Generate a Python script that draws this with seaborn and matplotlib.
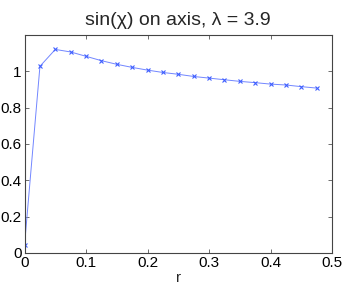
import numpy as np
import pandas as pd
import matplotlib
matplotlib.use("Agg")
import matplotlib.pyplot as plt
import seaborn as sns
from matplotlib.ticker import FormatStrFormatter

# data
r_vals = [0.0, 0.025, 0.05, 0.075, 0.1, 0.125, 0.15, 0.175, 0.2, 0.225,
          0.25, 0.275, 0.3, 0.325, 0.35, 0.375, 0.4, 0.425, 0.45, 0.475]
sin_chi = [0.045, 1.028, 1.121, 1.107, 1.083, 1.059, 1.039, 1.022, 1.007, 0.994,
           0.984, 0.972, 0.963, 0.954, 0.945, 0.938, 0.930, 0.925, 0.916, 0.908]
x_ticks = [0, 0.1, 0.2, 0.3, 0.4, 0.5]
y_ticks = [0, 0.2, 0.4, 0.6, 0.8, 1.0]

sns.set_style("ticks")
plt.rcParams['font.family'] = ['Liberation Sans', 'DejaVu Sans']

df = pd.DataFrame({"r": r_vals, "sin_chi": sin_chi})

fig = plt.figure(figsize=(3.46, 2.9), dpi=100)
ax = fig.add_axes([0.071, 0.128, 0.8885, 0.751])
sns.lineplot(data=df, x="r", y="sin_chi", ax=ax, color="#7286ff", linewidth=0.7,
             marker="x", markersize=3.5, markeredgewidth=0.8, markeredgecolor="#4060ff")

ax.set_xlim(0, 0.5)
ax.set_ylim(0, 1.2)
ax.set_xticks(x_ticks)
ax.set_yticks(y_ticks)
ax.xaxis.set_major_formatter(FormatStrFormatter("%g"))
ax.yaxis.set_major_formatter(FormatStrFormatter("%g"))
ax.tick_params(direction="in", length=3, width=0.6, colors="#555555",
               labelcolor="black", labelsize=11, top=True, right=True, pad=2)
for s in ax.spines.values():
    s.set_visible(True)
    s.set_color("#444444")
    s.set_linewidth(0.8)

ax.set_xlabel("r", fontsize=11, labelpad=1)
ax.set_ylabel("")
ax.set_title("sin(\u03c7) on axis, \u03bb = 3.9", fontsize=14, pad=7)

fig.savefig("out.png", dpi=100)
